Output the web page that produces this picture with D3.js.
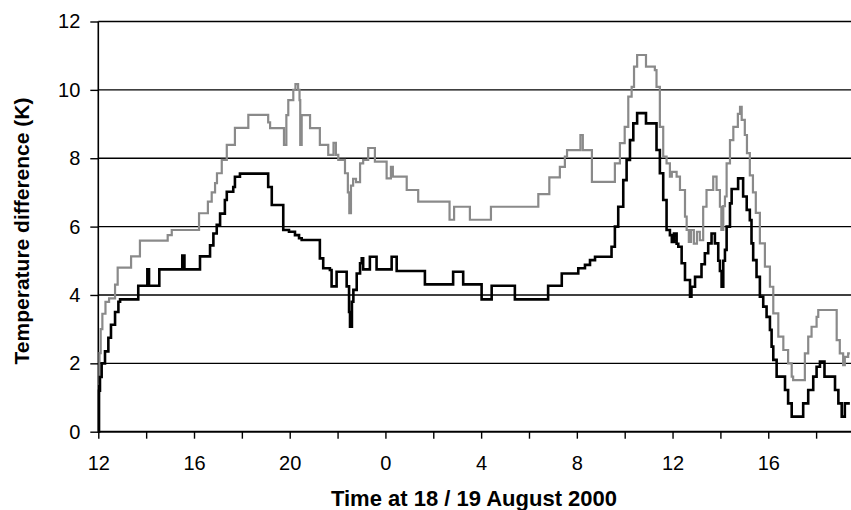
<!DOCTYPE html>
<html>
<head>
<meta charset="utf-8">
<script src="https://cdn.jsdelivr.net/npm/d3@7"></script>
<style>
  html, body { margin: 0; padding: 0; background: #fff; }
  svg { display: block; font-family: "Liberation Sans", Arial, Helvetica, sans-serif; }
</style>
</head>
<body>
<svg id="chart" width="851" height="510"></svg>
<script>
// ---- Data (hours from 12:00 on 18 Aug; value in K) ----
const yTickValues = [0, 2, 4, 6, 8, 10, 12];
const xTickValues = [12, 14, 16, 18, 20, 22, 24, 26, 28, 30, 32, 34, 36, 38, 40, 42];
const xTickLabels = { 12: "12", 16: "16", 20: "20", 24: "0", 28: "4", 32: "8", 36: "12", 40: "16" };

const timeGray = [12.00,12.05,12.10,12.17,12.30,12.45,12.70,12.81,13.37,13.74,14.90,15.07,16.21,16.58,16.74,16.88,16.96,17.16,17.37,17.71,18.27,19.10,19.18,19.76,19.86,19.94,20.15,20.24,20.35,20.41,20.44,20.50,20.85,21.26,21.61,21.83,21.93,22.03,22.31,22.43,22.49,22.56,22.65,22.77,22.94,23.07,23.28,23.56,24.05,24.23,24.31,24.89,25.37,26.68,26.87,27.53,28.41,30.39,30.85,31.29,31.50,31.59,32.15,32.25,32.63,33.59,33.80,34.00,34.15,34.29,34.39,34.52,34.89,35.26,35.33,35.47,35.61,35.75,35.89,35.97,36.17,36.31,36.52,36.59,36.68,36.77,36.89,37.02,37.14,37.28,37.42,37.70,37.84,37.98,38.04,38.12,38.19,38.26,38.40,38.54,38.73,38.82,38.89,39.02,39.11,39.23,39.36,39.48,39.65,39.86,40.07,40.21,40.42,40.63,40.83,40.98,41.04,41.53,41.67,41.81,42.02,42.09,42.86,42.99,43.13,43.20,43.34,43.41];
const tempGray = [1.4,2.3,3.0,3.45,3.8,3.9,4.3,4.8,5.13,5.59,5.75,5.9,6.39,6.73,7.0,7.27,7.56,7.95,8.39,8.89,9.27,9.05,8.88,8.39,9.26,9.70,10.0,10.17,10.0,9.7,8.39,9.26,8.88,8.39,8.10,8.45,8.10,7.95,7.56,7.0,6.39,7.2,7.4,7.3,7.85,7.95,8.3,7.9,7.41,7.75,7.46,7.07,6.73,6.2,6.58,6.2,6.58,6.95,7.44,7.75,8.05,8.24,8.68,8.24,7.31,7.85,8.44,8.92,9.80,10.09,10.68,11.02,10.68,10.58,10.09,8.92,8.05,7.85,7.46,7.6,7.46,7.07,6.29,5.9,5.55,5.9,5.5,5.85,5.6,6.58,7.07,7.46,7.07,6.58,5.9,6.6,6.88,7.85,8.53,8.92,9.3,9.5,9.12,8.68,8.15,7.5,7.0,6.4,5.51,4.83,4.24,3.46,2.78,2.39,2.0,1.61,1.51,2.29,2.78,3.07,3.36,3.56,2.68,2.29,1.95,2.19,2.29,2.29];

const timeBlack = [12.00,12.03,12.07,12.14,12.28,12.42,12.53,12.70,12.84,12.91,13.67,14.05,14.12,14.55,15.51,15.60,16.25,16.67,16.81,16.95,17.09,17.29,17.37,17.64,17.71,17.92,19.10,19.25,19.73,19.97,20.22,20.39,20.50,21.26,21.40,21.68,21.75,21.96,22.38,22.48,22.52,22.60,22.66,22.80,22.94,23.01,23.07,23.35,23.63,24.26,24.47,25.65,26.83,27.25,28.02,28.44,29.41,30.80,31.37,32.06,32.34,32.55,32.76,33.45,33.59,33.73,33.94,34.08,34.22,34.36,34.52,34.89,35.33,35.47,35.61,35.75,35.89,35.97,36.06,36.17,36.24,36.38,36.52,36.73,36.79,36.94,37.21,37.35,37.49,37.63,37.77,37.91,37.98,38.05,38.12,38.19,38.26,38.40,38.47,38.74,38.95,39.10,39.23,39.30,39.37,39.51,39.65,39.79,39.93,40.07,40.14,40.21,40.35,40.70,40.83,40.98,41.46,41.67,41.88,42.02,42.16,42.35,42.79,42.93,43.07,43.20,43.41];
const tempBlack = [0,1.2,1.6,2.0,2.35,2.75,3.13,3.5,3.8,3.87,4.27,4.75,4.27,4.75,5.15,4.75,5.13,5.45,5.8,6.05,6.38,6.78,7.02,7.16,7.46,7.55,7.16,6.63,5.9,5.85,5.75,5.66,5.61,5.07,4.78,4.73,4.25,4.68,4.25,3.5,3.07,3.8,4.15,4.63,4.93,5.07,4.75,5.12,4.75,5.12,4.70,4.31,4.68,4.31,3.87,4.27,3.87,4.27,4.63,4.78,4.88,5.02,5.12,5.41,6.0,6.58,7.36,7.95,8.53,9.02,9.32,9.02,8.24,7.56,6.78,5.9,5.75,5.55,5.8,5.5,5.41,4.93,4.44,3.95,4.24,4.53,4.9,5.22,5.51,5.8,5.51,5.0,4.7,4.24,5.0,5.32,6.0,6.68,7.1,7.41,6.88,6.49,6.19,5.51,5.02,4.53,3.95,3.66,3.36,2.98,2.49,2.1,1.61,1.22,0.83,0.44,0.83,1.22,1.61,1.90,2.05,1.61,1.22,0.83,0.44,0.83,0.83];

const yTitle = "Temperature difference (K)";
const xTitle = "Time at 18 / 19 August 2000";

// ---- Chart ----
const W = 851, H = 510;
const svg = d3.select("#chart");
const x = d3.scaleLinear().domain([12, 43.5]).range([98.3, 852]);
const y = d3.scaleLinear().domain([0, 12]).range([431.7, 21.5]);

// gridlines
svg.append("g").selectAll("line")
  .data(yTickValues.filter(v => v > 0))
  .join("line")
  .attr("x1", x(12)).attr("x2", W)
  .attr("y1", d => y(d)).attr("y2", d => y(d))
  .attr("stroke", "#000").attr("stroke-width", 1.4);

// y axis
const yAxis = svg.append("g")
  .attr("transform", `translate(${x(12)},0)`)
  .call(d3.axisLeft(y).tickValues(yTickValues).tickSize(8).tickPadding(10).tickFormat(d3.format("d")));
yAxis.select(".domain").remove();
yAxis.selectAll(".tick line").attr("stroke", "#000").attr("stroke-width", 1.4);
yAxis.selectAll(".tick text").attr("font-size", 20).attr("fill", "#000")
  .attr("font-family", "'Liberation Sans', Arial, sans-serif");

// x axis
const xAxis = svg.append("g")
  .attr("transform", `translate(0,${y(0)})`)
  .call(d3.axisBottom(x).tickValues(xTickValues).tickSize(7).tickPadding(17)
    .tickFormat(d => xTickLabels[d] || ""));
xAxis.select(".domain").remove();
xAxis.selectAll(".tick line").attr("stroke", "#000").attr("stroke-width", 1.4);
xAxis.selectAll(".tick text").attr("font-size", 20).attr("fill", "#000")
  .attr("font-family", "'Liberation Sans', Arial, sans-serif");

// axis lines
svg.append("line").attr("x1", x(12)).attr("x2", W).attr("y1", y(0)).attr("y2", y(0))
  .attr("stroke", "#000").attr("stroke-width", 2);
svg.append("line").attr("x1", x(12)).attr("x2", x(12)).attr("y1", y(12)).attr("y2", y(0) + 1)
  .attr("stroke", "#000").attr("stroke-width", 1.6);

// series
const grayData = timeGray.map((t, i) => [t, tempGray[i]]);
const blackData = timeBlack.map((t, i) => [t, tempBlack[i]]);
const line = d3.line().x(d => x(d[0])).y(d => y(d[1])).curve(d3.curveStepAfter);

svg.append("path").datum(grayData).attr("d", line)
  .attr("fill", "none").attr("stroke", "#8a8a8a").attr("stroke-width", 2.2)
  .attr("stroke-linejoin", "miter");
svg.append("path").datum(blackData).attr("d", line)
  .attr("fill", "none").attr("stroke", "#000").attr("stroke-width", 2.6)
  .attr("stroke-linejoin", "miter");

// titles
svg.append("text")
  .attr("transform", `translate(28.5,231) rotate(-90)`)
  .attr("text-anchor", "middle")
  .attr("font-size", 21).attr("font-weight", "bold")
  .text(yTitle);
svg.append("text")
  .attr("x", 474).attr("y", 506)
  .attr("text-anchor", "middle")
  .attr("font-size", 22).attr("font-weight", "bold")
  .text(xTitle);
</script>
</body>
</html>
